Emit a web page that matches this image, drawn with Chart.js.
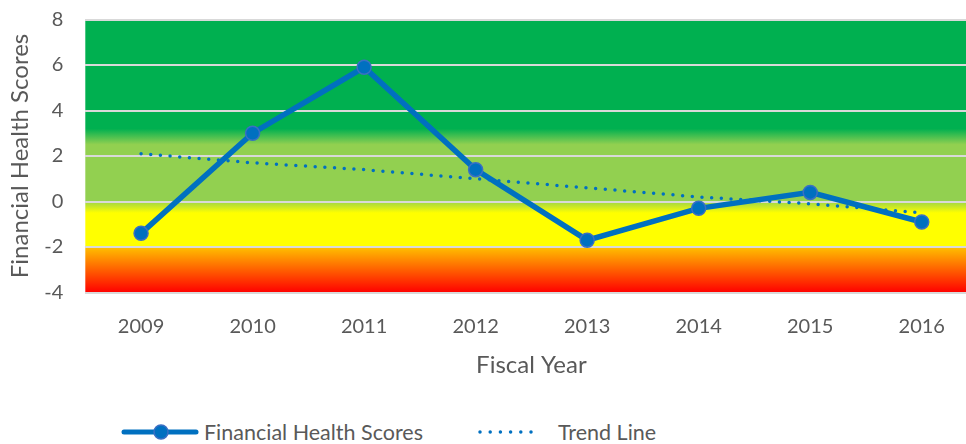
<!DOCTYPE html>
<html>
<head>
<meta charset="utf-8">
<script src="https://cdn.jsdelivr.net/npm/chart.js@4.4.1/dist/chart.umd.min.js"></script>
<style>
  html, body { margin: 0; padding: 0; background: #fff; overflow: hidden; width: 966px; height: 444px; }
  #chartScores { position: absolute; left: 0; top: 0; }
  #legend { position: absolute; top: 420px; left: 0; width: 966px; height: 24px;
            font-family: Lato, 'Open Sans', sans-serif; font-size: 21.5px; color: #595959; }
  #legend .item { position: absolute; top: 0; display: flex; align-items: center; height: 24px; }
  #legend svg { display: block; }
</style>
</head>
<body>
<canvas id="chartScores" width="986" height="380"></canvas>
<div id="legend">
  <div class="item" style="left:121px">
    <svg width="78" height="20"><line x1="3" y1="10" x2="75" y2="10" stroke="#0070C0" stroke-width="5" stroke-linecap="round"/><circle cx="40" cy="10" r="7" fill="#0070C0" stroke="#3a6fc4" stroke-width="1.5"/></svg>
    <span id="lg1" style="margin-left:5px"></span>
  </div>
  <div class="item" style="left:477px">
    <svg width="58" height="20"><line x1="3" y1="10" x2="55" y2="10" stroke="#0070C0" stroke-width="3.5" stroke-linecap="round" stroke-dasharray="0 10.2"/></svg>
    <span id="lg2" style="margin-left:23px"></span>
  </div>
</div>
<script>
// ── Data ──
const years = ['2009', '2010', '2011', '2012', '2013', '2014', '2015', '2016'];
const scores = [-1.4, 3.0, 5.9, 1.4, -1.7, -0.3, 0.4, -0.9];
const trend = [2.1, 1.7, 1.4, 1.0, 0.6, 0.2, -0.1, -0.5];
const yTicks = [-4, -2, 0, 2, 4, 6, 8];
const seriesNames = ['Financial Health Scores', 'Trend Line'];

// background bands (value, colour), top to bottom
const bandStops = [
    [8, '#00B050'], [3.2, '#00B050'], [2.5, '#92D050'], [0.05, '#92D050'],
    [-0.5, '#FFFF00'], [-1.98, '#FFFF00'], [-2, '#FFC000'], [-4, '#FF0000'],
];

const textColor = '#595959';
const fontFamily = "Lato, 'Open Sans', sans-serif";

document.getElementById('lg1').textContent = seriesNames[0];
document.getElementById('lg2').textContent = seriesNames[1];

const bandsPlugin = {
    id: 'bands',
    beforeDraw(chart) {
        const { ctx, chartArea: a, scales: { y } } = chart;
        const top = y.getPixelForValue(yTicks[yTicks.length - 1]);
        const bottom = y.getPixelForValue(yTicks[0]);
        const g = ctx.createLinearGradient(0, top, 0, bottom);
        bandStops.forEach(([v, c]) => {
            g.addColorStop((y.getPixelForValue(v) - top) / (bottom - top), c);
        });
        ctx.save();
        ctx.fillStyle = g;
        ctx.fillRect(a.left, top, a.right - a.left, bottom - top);
        ctx.restore();
    }
};

new Chart(document.getElementById('chartScores'), {
    type: 'line',
    data: {
        labels: years,
        datasets: [
            {
                label: seriesNames[1],
                data: trend,
                borderColor: '#0070C0',
                borderWidth: 3.5,
                borderDash: [0, 9.7],
                borderCapStyle: 'round',
                pointRadius: 0,
                fill: false,
                order: 2,
            },
            {
                label: seriesNames[0],
                data: scores,
                borderColor: '#0070C0',
                borderWidth: 5.5,
                pointRadius: 7,
                pointBackgroundColor: '#0070C0',
                pointBorderColor: '#3a6fc4',
                pointBorderWidth: 1.5,
                fill: false,
                tension: 0,
                order: 1,
            }
        ]
    },
    options: {
        responsive: false,
        animation: false,
        layout: { padding: { top: 19.5, left: 6, right: 0, bottom: 0 } },
        plugins: { legend: { display: false }, tooltip: { enabled: false } },
        scales: {
            x: {
                offset: true,
                grid: { display: false },
                border: { display: false },
                ticks: { color: textColor, font: { family: fontFamily, size: 20 }, padding: 14, maxRotation: 0 },
                title: { display: true, text: 'Fiscal Year', color: textColor, font: { family: fontFamily, size: 24 }, padding: 0 },
                afterFit(scale) { scale.height = 87.5; }
            },
            y: {
                min: yTicks[0],
                max: yTicks[yTicks.length - 1],
                afterBuildTicks(scale) { scale.ticks = yTicks.map(v => ({ value: v })); },
                grid: { color: '#D9D9D9', lineWidth: 2, drawTicks: false },
                border: { display: false },
                ticks: { color: textColor, font: { family: fontFamily, size: 20 }, padding: 22 },
                title: { display: true, text: 'Financial Health Scores', color: textColor, font: { family: fontFamily, size: 24 }, padding: 0 },
                afterFit(scale) {
                    scale.width = 79.3;
                    scale.paddingTop = 0;
                    scale.paddingBottom = 0;
                }
            }
        }
    },
    plugins: [bandsPlugin]
});
</script>
</body>
</html>
